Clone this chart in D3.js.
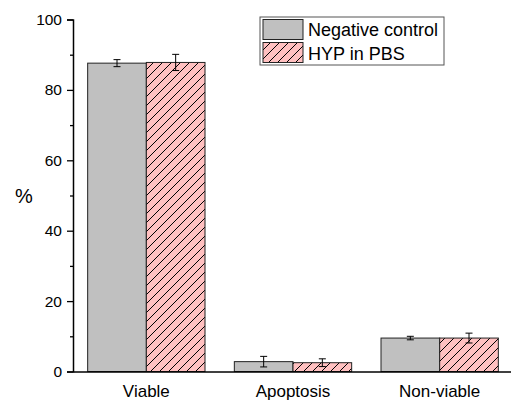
<!DOCTYPE html>
<html>
<head>
<meta charset="utf-8">
<script src="https://cdn.jsdelivr.net/npm/d3@7"></script>
<style>
  html, body { margin: 0; padding: 0; background: #fff; }
  svg { display: block; font-family: Arial, "Liberation Sans", sans-serif; }
</style>
</head>
<body>
<div id="chart"></div>
<script>
(function () {
  'use strict';

  // data
  var CATEGORIES = ['Viable', 'Apoptosis', 'Non-viable'];
  var SERIES = ['Negative control', 'HYP in PBS'];
  var CONTROL_MEAN = [87.6, 2.8, 9.5];
  var CONTROL_ERR  = [1.0, 1.5, 0.5];
  var HYP_MEAN     = [87.8, 2.5, 9.5];
  var HYP_ERR      = [2.3, 1.1, 1.4];
  var Y_MAJOR = [0, 20, 40, 60, 80, 100];
  var Y_MINOR = [10, 30, 50, 70, 90];

  var W = 511, H = 402;
  var X0 = 73, X1 = 513, Y0 = 371.5, Y1 = 19.5;
  var FONT = 'Arial, "Liberation Sans", sans-serif';

  var COLOR_GRAY = '#c0c0c0';
  var COLOR_PINK = '#ffc0c0';

  var svg = d3.select('#chart').append('svg')
    .attr('width', W).attr('height', H);

  var defs = svg.append('defs');
  var pat = defs.append('pattern')
    .attr('id', 'hatch')
    .attr('patternUnits', 'userSpaceOnUse')
    .attr('width', 9).attr('height', 9);
  pat.append('rect').attr('width', 9).attr('height', 9).attr('fill', COLOR_PINK);
  pat.append('path')
    .attr('d', 'M0,9 L9,0 M-2,2 L2,-2 M7,11 L11,7')
    .attr('stroke', '#000').attr('stroke-width', 1);

  var x = d3.scaleBand().domain(CATEGORIES).range([X0, X1])
    .paddingInner(0.2).paddingOuter(0.1);
  var xs = d3.scaleBand().domain(SERIES).range([0, x.bandwidth()]);
  var y = d3.scaleLinear().domain([0, 100]).range([Y0, Y1]);

  var rows = [
    { name: SERIES[0], means: CONTROL_MEAN, errs: CONTROL_ERR, fill: COLOR_GRAY },
    { name: SERIES[1], means: HYP_MEAN, errs: HYP_ERR, fill: 'url(#hatch)' }
  ];

  rows.forEach(function (s) {
    var g = svg.append('g');
    CATEGORIES.forEach(function (c, i) {
      var bx = x(c) + xs(s.name);
      var bw = xs.bandwidth();
      g.append('rect')
        .attr('x', bx).attr('y', y(s.means[i]))
        .attr('width', bw).attr('height', y(0) - y(s.means[i]))
        .attr('fill', s.fill)
        .attr('stroke', '#222').attr('stroke-width', 1);
      var cx = bx + bw / 2;
      var top = y(s.means[i] + s.errs[i]);
      var bot = y(s.means[i] - s.errs[i]);
      g.append('path')
        .attr('d', 'M' + (cx - 3.5) + ',' + top + 'H' + (cx + 3.5) +
                   'M' + cx + ',' + top + 'V' + bot +
                   'M' + (cx - 3.5) + ',' + bot + 'H' + (cx + 3.5))
        .attr('stroke', '#000').attr('stroke-width', 1).attr('fill', 'none');
    });
  });

  // y axis
  var yAxis = svg.append('g')
    .attr('transform', 'translate(' + X0 + ',0)')
    .call(d3.axisLeft(y).tickValues(Y_MAJOR).tickSize(6).tickPadding(5));
  yAxis.select('.domain').attr('stroke-width', 1.5);
  yAxis.selectAll('line').attr('stroke-width', 1.3);
  yAxis.selectAll('text').attr('font-size', 15.5).attr('fill', '#000')
    .attr('font-family', FONT);
  svg.append('g')
    .attr('transform', 'translate(' + X0 + ',0)')
    .call(d3.axisLeft(y).tickValues(Y_MINOR).tickSize(3).tickFormat(''))
    .call(function (g) { g.select('.domain').remove(); })
    .selectAll('line').attr('stroke-width', 1.3);

  // x axis
  var xAxis = svg.append('g')
    .attr('transform', 'translate(0,' + Y0 + ')')
    .call(d3.axisBottom(x).tickSize(0).tickPadding(13));
  xAxis.select('.domain').attr('stroke-width', 1.5);
  xAxis.selectAll('text').attr('font-size', 17).attr('fill', '#000')
    .attr('font-family', FONT);

  svg.append('text')
    .attr('x', 24).attr('y', 203)
    .attr('text-anchor', 'middle')
    .attr('font-size', 20)
    .attr('font-family', FONT)
    .text('%');

  // legend
  var lg = svg.append('g').attr('transform', 'translate(260,17)');
  lg.append('rect').attr('x', 0).attr('y', 0).attr('width', 184).attr('height', 48)
    .attr('fill', '#fff').attr('stroke', '#555').attr('stroke-width', 1);
  rows.forEach(function (s, i) {
    lg.append('rect')
      .attr('x', 3).attr('y', 2.5 + i * 23)
      .attr('width', 40).attr('height', 20)
      .attr('fill', s.fill).attr('stroke', '#222').attr('stroke-width', 1);
    lg.append('text')
      .attr('x', 48).attr('y', 18.5 + i * 24.5)
      .attr('font-size', 18)
      .attr('font-family', FONT)
      .text(s.name);
  });
})();
</script>
</body>
</html>
